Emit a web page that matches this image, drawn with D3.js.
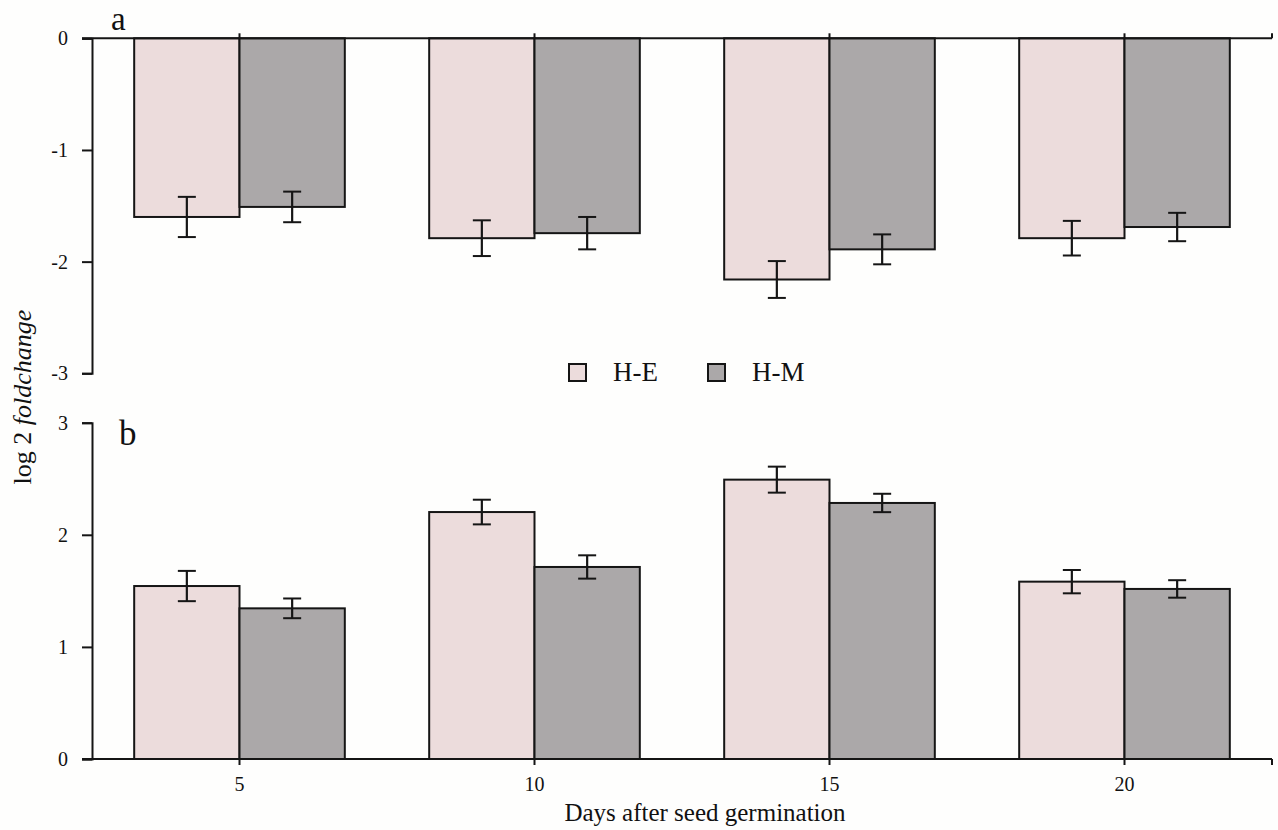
<!DOCTYPE html>
<html>
<head>
<meta charset="utf-8">
<script src="https://cdn.jsdelivr.net/npm/d3@7"></script>
<style>
  html, body { margin: 0; padding: 0; background: #fefefd; }
  svg { display: block; }
  svg text { font-family: "Liberation Serif", "Times New Roman", serif !important; fill: #111; }
</style>
</head>
<body>
<svg id="chart" width="1278" height="830"></svg>
<script>
// ---- data ----
const days = ["5", "10", "15", "20"];
const series = ["H-E", "H-M"];
// panel a (log2 fold change, negative)
const aHE = [-1.60, -1.79, -2.16, -1.79];
const aHEerr = [0.18, 0.16, 0.165, 0.155];
const aHM = [-1.51, -1.745, -1.89, -1.69];
const aHMerr = [0.137, 0.145, 0.134, 0.127];
// panel b (log2 fold change, positive)
const bHE = [1.543, 2.203, 2.492, 1.582];
const bHEerr = [0.135, 0.11, 0.116, 0.104];
const bHM = [1.344, 1.713, 2.284, 1.517];
const bHMerr = [0.088, 0.104, 0.082, 0.078];
const aTicks = [0, -1, -2, -3];
const bTicks = [0, 1, 2, 3];

const colors = { "H-E": "#ecdcdc", "H-M": "#aba8a9" };
const ink = "#151515";
const serif = "'Liberation Serif', 'Times New Roman', serif";

const svg = d3.select("#chart");

const x = d3.scaleBand().domain(days).range([92, 1272]).padding(0);
const barW = x.bandwidth() * 0.357;
const xs = d3.scaleBand().domain(series).range([-barW, barW]);

const yA = d3.scaleLinear().domain([-3, 0]).range([373.3, 38.3]);
const yB = d3.scaleLinear().domain([0, 3]).range([759, 422.7]);

function panel(y, he, heErr, hm, hmErr) {
  const g = svg.append("g");
  const rows = days.map((d, i) => ({
    day: d,
    vals: [
      { s: "H-E", v: he[i], e: heErr[i] },
      { s: "H-M", v: hm[i], e: hmErr[i] }
    ]
  }));
  const grp = g.selectAll("g.day").data(rows).join("g")
    .attr("transform", d => `translate(${x(d.day) + x.bandwidth() / 2},0)`);
  grp.selectAll("rect").data(d => d.vals).join("rect")
    .attr("x", d => xs(d.s))
    .attr("width", xs.bandwidth())
    .attr("y", d => Math.min(y(0), y(d.v)))
    .attr("height", d => Math.abs(y(d.v) - y(0)))
    .attr("fill", d => colors[d.s])
    .attr("stroke", ink)
    .attr("stroke-width", 2);
  const eb = grp.selectAll("g.err").data(d => d.vals).join("g")
    .attr("transform", d => `translate(${xs(d.s) + xs.bandwidth() / 2},0)`);
  eb.append("line")
    .attr("y1", d => y(d.v - d.e)).attr("y2", d => y(d.v + d.e))
    .attr("stroke", ink).attr("stroke-width", 2.2);
  eb.append("line")
    .attr("x1", -9).attr("x2", 9)
    .attr("y1", d => y(d.v - d.e)).attr("y2", d => y(d.v - d.e))
    .attr("stroke", ink).attr("stroke-width", 2);
  eb.append("line")
    .attr("x1", -9).attr("x2", 9)
    .attr("y1", d => y(d.v + d.e)).attr("y2", d => y(d.v + d.e))
    .attr("stroke", ink).attr("stroke-width", 2);
  return g;
}

panel(yA, aHE, aHEerr, aHM, aHMerr);
panel(yB, bHE, bHEerr, bHM, bHMerr);

const fmt = d => String(d).replace("\u2212", "-");

function yAxis(y, ticks) {
  const ax = svg.append("g").attr("transform", "translate(92,0)")
    .call(d3.axisLeft(y).tickValues(ticks).tickSize(10).tickPadding(14).tickFormat(fmt));
  ax.attr("font-family", serif).attr("font-size", 20);
  ax.select(".domain").attr("stroke", ink).attr("stroke-width", 2);
  ax.selectAll(".tick line").attr("stroke", ink).attr("stroke-width", 2);
  ax.selectAll(".tick text").attr("font-size", 20).attr("fill", "#111");
}
yAxis(yA, aTicks);
yAxis(yB, bTicks);

function xAxis(yPos, orient) {
  const axisFn = orient === "top" ? d3.axisTop(x) : d3.axisBottom(x);
  const ax = svg.append("g").attr("transform", `translate(0,${yPos})`)
    .call(axisFn.tickSize(orient === "top" ? 5 : 6).tickSizeOuter(0).tickPadding(12));
  ax.attr("font-family", serif).attr("font-size", 20);
  ax.select(".domain").attr("stroke", ink).attr("stroke-width", 2)
    .attr("d", `M82,0H1272`);
  ax.selectAll(".tick line").attr("stroke", ink).attr("stroke-width", 2);
  ax.append("line").attr("x1", 1272).attr("x2", 1272).attr("y1", 0)
    .attr("y2", orient === "top" ? -5 : 6).attr("stroke", ink).attr("stroke-width", 2);
  if (orient === "top") ax.selectAll(".tick text").remove();
  else ax.selectAll(".tick text").attr("font-size", 20).attr("fill", "#111");
}
xAxis(yA(0), "top");
xAxis(yB(0), "bottom");

// panel letters
svg.append("text").attr("x", 111).attr("y", 30).attr("font-size", 33).text("a");
svg.append("text").attr("x", 119).attr("y", 445).attr("font-size", 35).text("b");

// legend
const leg = svg.append("g");
const legX = [569, 708];
series.forEach((s, i) => {
  leg.append("rect").attr("x", legX[i]).attr("y", 364).attr("width", 17).attr("height", 17)
    .attr("fill", colors[s]).attr("stroke", ink).attr("stroke-width", 2);
  leg.append("text").attr("x", legX[i] + 44).attr("y", 381).attr("font-size", 27).text(s);
});

// axis titles
svg.append("text").attr("x", 705).attr("y", 821).attr("text-anchor", "middle")
  .attr("font-size", 25).text("Days after seed germination");
const yl = svg.append("text").attr("transform", "translate(31,397) rotate(-90)")
  .attr("text-anchor", "middle").attr("font-size", 26);
yl.append("tspan").text("log 2 ");
yl.append("tspan").attr("font-style", "italic").text("foldchange");
</script>
</body>
</html>
